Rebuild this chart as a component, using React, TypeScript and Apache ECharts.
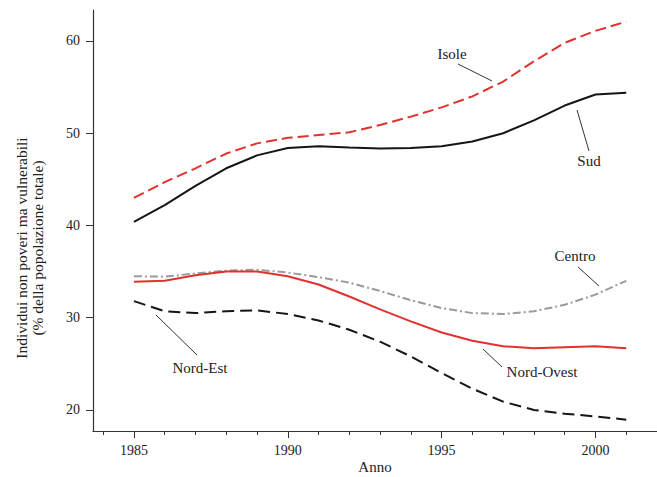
import React, { useEffect, useRef } from "react";
import * as echarts from "echarts";

const years = [1985, 1986, 1987, 1988, 1989, 1990, 1991, 1992, 1993, 1994, 1995, 1996, 1997, 1998, 1999, 2000, 2001];
const isole = [43.0, 44.7, 46.2, 47.8, 48.9, 49.5, 49.8, 50.1, 50.9, 51.8, 52.8, 54.0, 55.6, 57.8, 59.8, 61.1, 62.1];
const sud = [40.4, 42.2, 44.3, 46.2, 47.6, 48.4, 48.6, 48.45, 48.35, 48.4, 48.6, 49.1, 50.0, 51.4, 53.0, 54.2, 54.4];
const centro = [34.5, 34.45, 34.8, 35.1, 35.2, 34.9, 34.4, 33.8, 32.9, 31.9, 31.05, 30.5, 30.4, 30.7, 31.4, 32.5, 34.0];
const nordOvest = [33.9, 34.0, 34.6, 35.0, 35.0, 34.5, 33.6, 32.3, 30.9, 29.6, 28.4, 27.5, 26.9, 26.7, 26.8, 26.9, 26.7];
const nordEst = [31.8, 30.7, 30.5, 30.7, 30.8, 30.4, 29.7, 28.7, 27.4, 25.8, 24.0, 22.3, 20.9, 20.0, 19.6, 19.3, 18.95];

const xMajorTicks = [1985, 1990, 1995, 2000];
const xMinorTicks = [1984, 1985, 1986, 1987, 1988, 1989, 1990, 1991, 1992, 1993, 1994, 1995, 1996, 1997, 1998, 1999, 2000, 2001, 2002];
const yTicks = [20, 30, 40, 50, 60];

const FONT = "'Liberation Serif', 'DejaVu Serif', serif";
const RED = "#e0322f";
const BLACK = "#151515";
const GRAY = "#9a9a9a";
const TEXT = "#222";

const pairs = (vals: number[]) => years.map((y, i) => [y, vals[i]]);

export default function App() {
  const ref = useRef<HTMLDivElement>(null);
  useEffect(() => {
    const chart = echarts.init(ref.current!, null, { renderer: "svg" });
    const lineSeries = (name: string, vals: number[], color: string, type: any) => ({
      name,
      type: "line",
      data: pairs(vals),
      symbol: "none",
      smooth: false,
      xAxisIndex: 0,
      yAxisIndex: 0,
      lineStyle: { color, width: 2, type },
    });
    const label = (text: string, x: number, y: number) => ({
      type: "text",
      x,
      y,
      style: {
        text,
        fill: TEXT,
        fontFamily: FONT,
        fontSize: 15,
        align: "center",
        verticalAlign: "middle",
      },
    });
    const leader = (x1: number, y1: number, x2: number, y2: number) => ({
      type: "line",
      shape: { x1, y1, x2, y2 },
      style: { stroke: "#333", lineWidth: 1 },
    });
    chart.setOption({
      animation: false,
      backgroundColor: "#fff",
      grid: { left: 93, right: 0, top: 10, bottom: 46, containLabel: false, outerBoundsMode: "none" },
      xAxis: [
        {
          type: "value",
          min: 1983.67,
          max: 2002,
          name: "Anno",
          nameLocation: "middle",
          nameGap: 28,
          nameTextStyle: { fontFamily: FONT, fontSize: 15, color: TEXT },
          axisLine: { show: true, onZero: false, lineStyle: { color: "#333", width: 1.2 } },
          axisTick: { show: true, length: 4, customValues: xMinorTicks, lineStyle: { color: "#333" } },
          axisLabel: { show: false },
          splitLine: { show: false },
        },
        {
          type: "value",
          min: 1983.67,
          max: 2002,
          position: "bottom",
          axisLine: { show: false, onZero: false },
          axisTick: { show: true, length: 7, customValues: xMajorTicks, lineStyle: { color: "#333" } },
          axisLabel: {
            show: true,
            customValues: xMajorTicks,
            margin: 12,
            fontFamily: FONT,
            fontSize: 14,
            color: TEXT,
            formatter: (v: number) => String(v),
          },
          splitLine: { show: false },
        },
      ],
      yAxis: {
        type: "value",
        min: 17.72,
        max: 63.36,
        axisLine: { show: true, onZero: false, lineStyle: { color: "#333", width: 1.2 } },
        axisTick: { show: true, length: 7, customValues: yTicks, lineStyle: { color: "#333" } },
        axisLabel: {
          show: true,
          customValues: yTicks,
          margin: 13,
          fontFamily: FONT,
          fontSize: 14,
          color: TEXT,
          formatter: (v: number) => String(v),
        },
        splitLine: { show: false },
      },
      series: [
        lineSeries("Isole", isole, RED, [11, 5]),
        lineSeries("Sud", sud, BLACK, "solid"),
        lineSeries("Centro", centro, GRAY, [8, 3, 2, 3]),
        lineSeries("Nord-Ovest", nordOvest, RED, "solid"),
        lineSeries("Nord-Est", nordEst, BLACK, [12, 6]),
      ],
      graphic: [
        {
          type: "text",
          x: 29,
          y: 248,
          rotation: Math.PI / 2,
          style: {
            text: "Individui non poveri ma vulnerabili\n(% della popolazione totale)",
            fill: TEXT,
            fontFamily: FONT,
            fontSize: 15.5,
            align: "center",
            verticalAlign: "middle",
            lineHeight: 16,
          },
        },
        label("Isole", 452, 54),
        leader(458, 64, 492, 81),
        label("Sud", 589, 161),
        leader(577, 110, 589, 151),
        label("Centro", 575, 256),
        leader(578, 267, 599, 286),
        label("Nord-Ovest", 542, 372),
        leader(483, 349, 502, 367),
        label("Nord-Est", 200, 368),
        leader(156, 315, 197, 355),
      ],
    });
    return () => chart.dispose();
  }, []);
  return (
    <div
      ref={ref}
      style={{ position: "absolute", left: 0, top: 0, width: 657, height: 477, background: "#fff" }}
    />
  );
}
